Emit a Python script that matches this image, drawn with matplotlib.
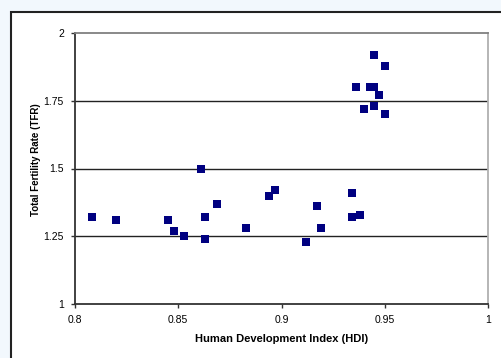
import matplotlib.pyplot as plt
from matplotlib.patches import Rectangle

# HDI vs TFR
hdi = [0.808, 0.820, 0.845, 0.848, 0.853, 0.863, 0.863, 0.869, 0.883,
       0.861, 0.894, 0.897, 0.912, 0.917, 0.919, 0.934, 0.934, 0.938,
       0.945, 0.950, 0.936, 0.943, 0.945, 0.947, 0.940, 0.945, 0.950]
tfr = [1.32, 1.31, 1.31, 1.27, 1.25, 1.24, 1.32, 1.37, 1.28,
       1.50, 1.40, 1.42, 1.23, 1.36, 1.28, 1.41, 1.32, 1.33,
       1.92, 1.88, 1.80, 1.80, 1.80, 1.77, 1.72, 1.73, 1.70]

x_ticks = [0.8, 0.85, 0.9, 0.95, 1]
x_labels = ['0.8', '0.85', '0.9', '0.95', '1']
y_ticks = [1, 1.25, 1.5, 1.75, 2]
y_labels = ['1', '1.25', '1.5', '1.75', '2']

plt.rcParams['font.family'] = ['Liberation Sans', 'DejaVu Sans']

fig = plt.figure(figsize=(5.01, 3.58), dpi=100)
fig.patch.set_facecolor('#f2f8fd')

# white chart area with black frame (runs off the right/bottom edge)
fig.patches.append(Rectangle((11 / 501, -0.05), 1.0, 1 - 12 / 358 + 0.05,
                             transform=fig.transFigure, facecolor='white',
                             edgecolor='#222222', linewidth=1.5, zorder=-5))

ax = fig.add_axes([75 / 501, 1 - 304 / 358, 413 / 501, 271 / 358])
ax.set_facecolor('white')
ax.set_zorder(2)

ax.scatter(hdi, tfr, marker='s', s=33, color='#000080', linewidths=0, zorder=3)

ax.set_xlim(0.8, 1)
ax.set_ylim(1, 2)
ax.set_xticks(x_ticks)
ax.set_xticklabels(x_labels)
ax.set_yticks(y_ticks)
ax.set_yticklabels(y_labels)
ax.tick_params(labelsize=7.5, length=3, width=1, color='#333333', pad=5)

# horizontal gridlines only
for yv in y_ticks[1:-1]:
    ax.axhline(yv, color='#222222', linewidth=1, zorder=1)

ax.spines['left'].set_color('#333333')
ax.spines['bottom'].set_color('#333333')
ax.spines['top'].set_color('#808080')
ax.spines['right'].set_color('#b0b0b0')
for s in ax.spines.values():
    s.set_linewidth(1.3)

ax.set_xlabel('Human Development Index (HDI)', fontsize=8, fontweight='bold')
ax.set_ylabel('Total Fertility Rate (TFR)', fontsize=7, fontweight='bold')
ax.xaxis.set_label_coords(0.5, -(339 - 304) / 271, transform=ax.transAxes)
ax.yaxis.set_label_coords(-(75 - 36) / 413, (304 - 160) / 271, transform=ax.transAxes)
ax.xaxis.label.set_va('center')
ax.yaxis.label.set_va('center')

plt.savefig('out.png', dpi=100, facecolor=fig.get_facecolor())
